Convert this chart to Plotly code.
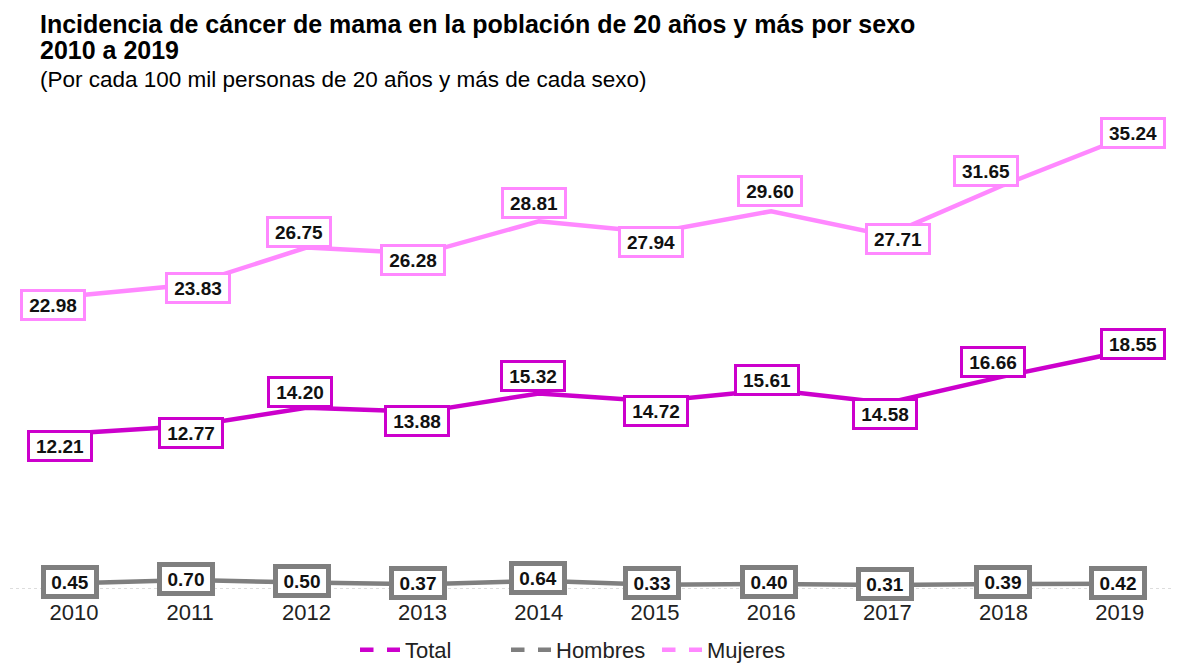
import plotly.graph_objects as go

years = ["2010", "2011", "2012", "2013", "2014", "2015", "2016", "2017", "2018", "2019"]
total = [12.21, 12.77, 14.20, 13.88, 15.32, 14.72, 15.61, 14.58, 16.66, 18.55]
hombres = [0.45, 0.70, 0.50, 0.37, 0.64, 0.33, 0.40, 0.31, 0.39, 0.42]
mujeres = [22.98, 23.83, 26.75, 26.28, 28.81, 27.94, 29.60, 27.71, 31.65, 35.24]

# label offsets in pixels (style only)
muj_dx = [-21, 8, -7, -10, -5, -4, -1, 11, -18, 13]
muj_dy = [-9, -3, 16, -6, 18, -10, 20, -4, 14, 6]
tot_dx = [-14, 1, -6, -6, -6, 1, -4, -2, -11, 13]
tot_dy = [-13, -7, 16, -9, 17, -10, 10, -11, 14, 8]
hom_dx = [-4, -4, -4, -5, -1, -3, -2, -2, -1, -2]
hom_dy = [1, 1, 2, 1, 3, 2, 2, 1, 2, 1]

C_TOT = "#CC00CC"
C_HOM = "#7F7F7F"
C_MUJ = "#FF88FF"
FONT = "Liberation Sans, Arial, sans-serif"

W, H = 1173, 658
xi = list(range(len(years)))
fig = go.Figure()
for name, vals, col in [("Mujeres", mujeres, C_MUJ), ("Total", total, C_TOT), ("Hombres", hombres, C_HOM)]:
    fig.add_trace(go.Scatter(x=xi, y=vals, mode="lines", line=dict(color=col, width=4.5),
                             showlegend=False, hoverinfo="skip"))
for name, col in [("Total", C_TOT), ("Hombres", C_HOM), ("Mujeres", C_MUJ)]:
    fig.add_trace(go.Scatter(x=[None], y=[None], mode="lines", name=name,
                             line=dict(color=col, width=4.5, dash="dash")))

anns = []
def add_labels(vals, dx, dy, col, bw, w, h):
    for i, v in enumerate(vals):
        anns.append(dict(x=i, y=v, xref="x", yref="y", text=f"<b>{v:.2f}</b>", showarrow=False,
                         xshift=dx[i], yshift=dy[i], bgcolor="white", bordercolor=col,
                         borderwidth=bw, borderpad=1, width=w, height=h,
                         font=dict(family=FONT, size=19, color="#111111")))
add_labels(mujeres, muj_dx, muj_dy, C_MUJ, 3, 58, 24)
add_labels(total, tot_dx, tot_dy, C_TOT, 3, 58, 24)
add_labels(hombres, hom_dx, hom_dy, C_HOM, 5, 46, 22)

def py(p):
    return (581 - p) / 485.0

anns.append(dict(x=30 / W, y=py(16), xref="paper", yref="paper", xanchor="left", yanchor="middle",
                 text="<b>Incidencia de cáncer de mama en la población de 20 años y más por sexo</b>",
                 showarrow=False, font=dict(family=FONT, size=25, color="black")))
anns.append(dict(x=30 / W, y=py(42), xref="paper", yref="paper", xanchor="left", yanchor="middle",
                 text="<b>2010 a 2019</b>", showarrow=False, font=dict(family=FONT, size=25, color="black")))
anns.append(dict(x=30 / W, y=py(72), xref="paper", yref="paper", xanchor="left", yanchor="middle",
                 text="(Por cada 100 mil personas de 20 años y más de cada sexo)", showarrow=False,
                 font=dict(family=FONT, size=22.5, color="black")))

fig.update_layout(
    width=W, height=H,
    margin=dict(l=0, r=0, t=96, b=77),
    paper_bgcolor="white", plot_bgcolor="white",
    annotations=anns,
    shapes=[dict(type="line", xref="paper", yref="y", x0=2 / W, x1=1, y0=0, y1=0,
                 line=dict(color="#BBBBBB", width=1, dash="dot"), layer="below")],
    xaxis=dict(range=[-0.568, 9.527], tickvals=xi, ticktext=years, showgrid=False, zeroline=False,
               showline=False, ticks="outside", ticklen=4, tickcolor="rgba(0,0,0,0)",
               tickfont=dict(family=FONT, size=22, color="#222222")),
    yaxis=dict(range=[0, 38], visible=False),
    legend=dict(orientation="h", x=347 / W, xanchor="left", y=16 / H, yanchor="middle",
                yref="container", font=dict(family=FONT, size=22, color="#222222"),
                itemwidth=40, entrywidth=96, entrywidthmode="pixels", traceorder="normal"),
    showlegend=True,
)
fig.write_html("out.html")
